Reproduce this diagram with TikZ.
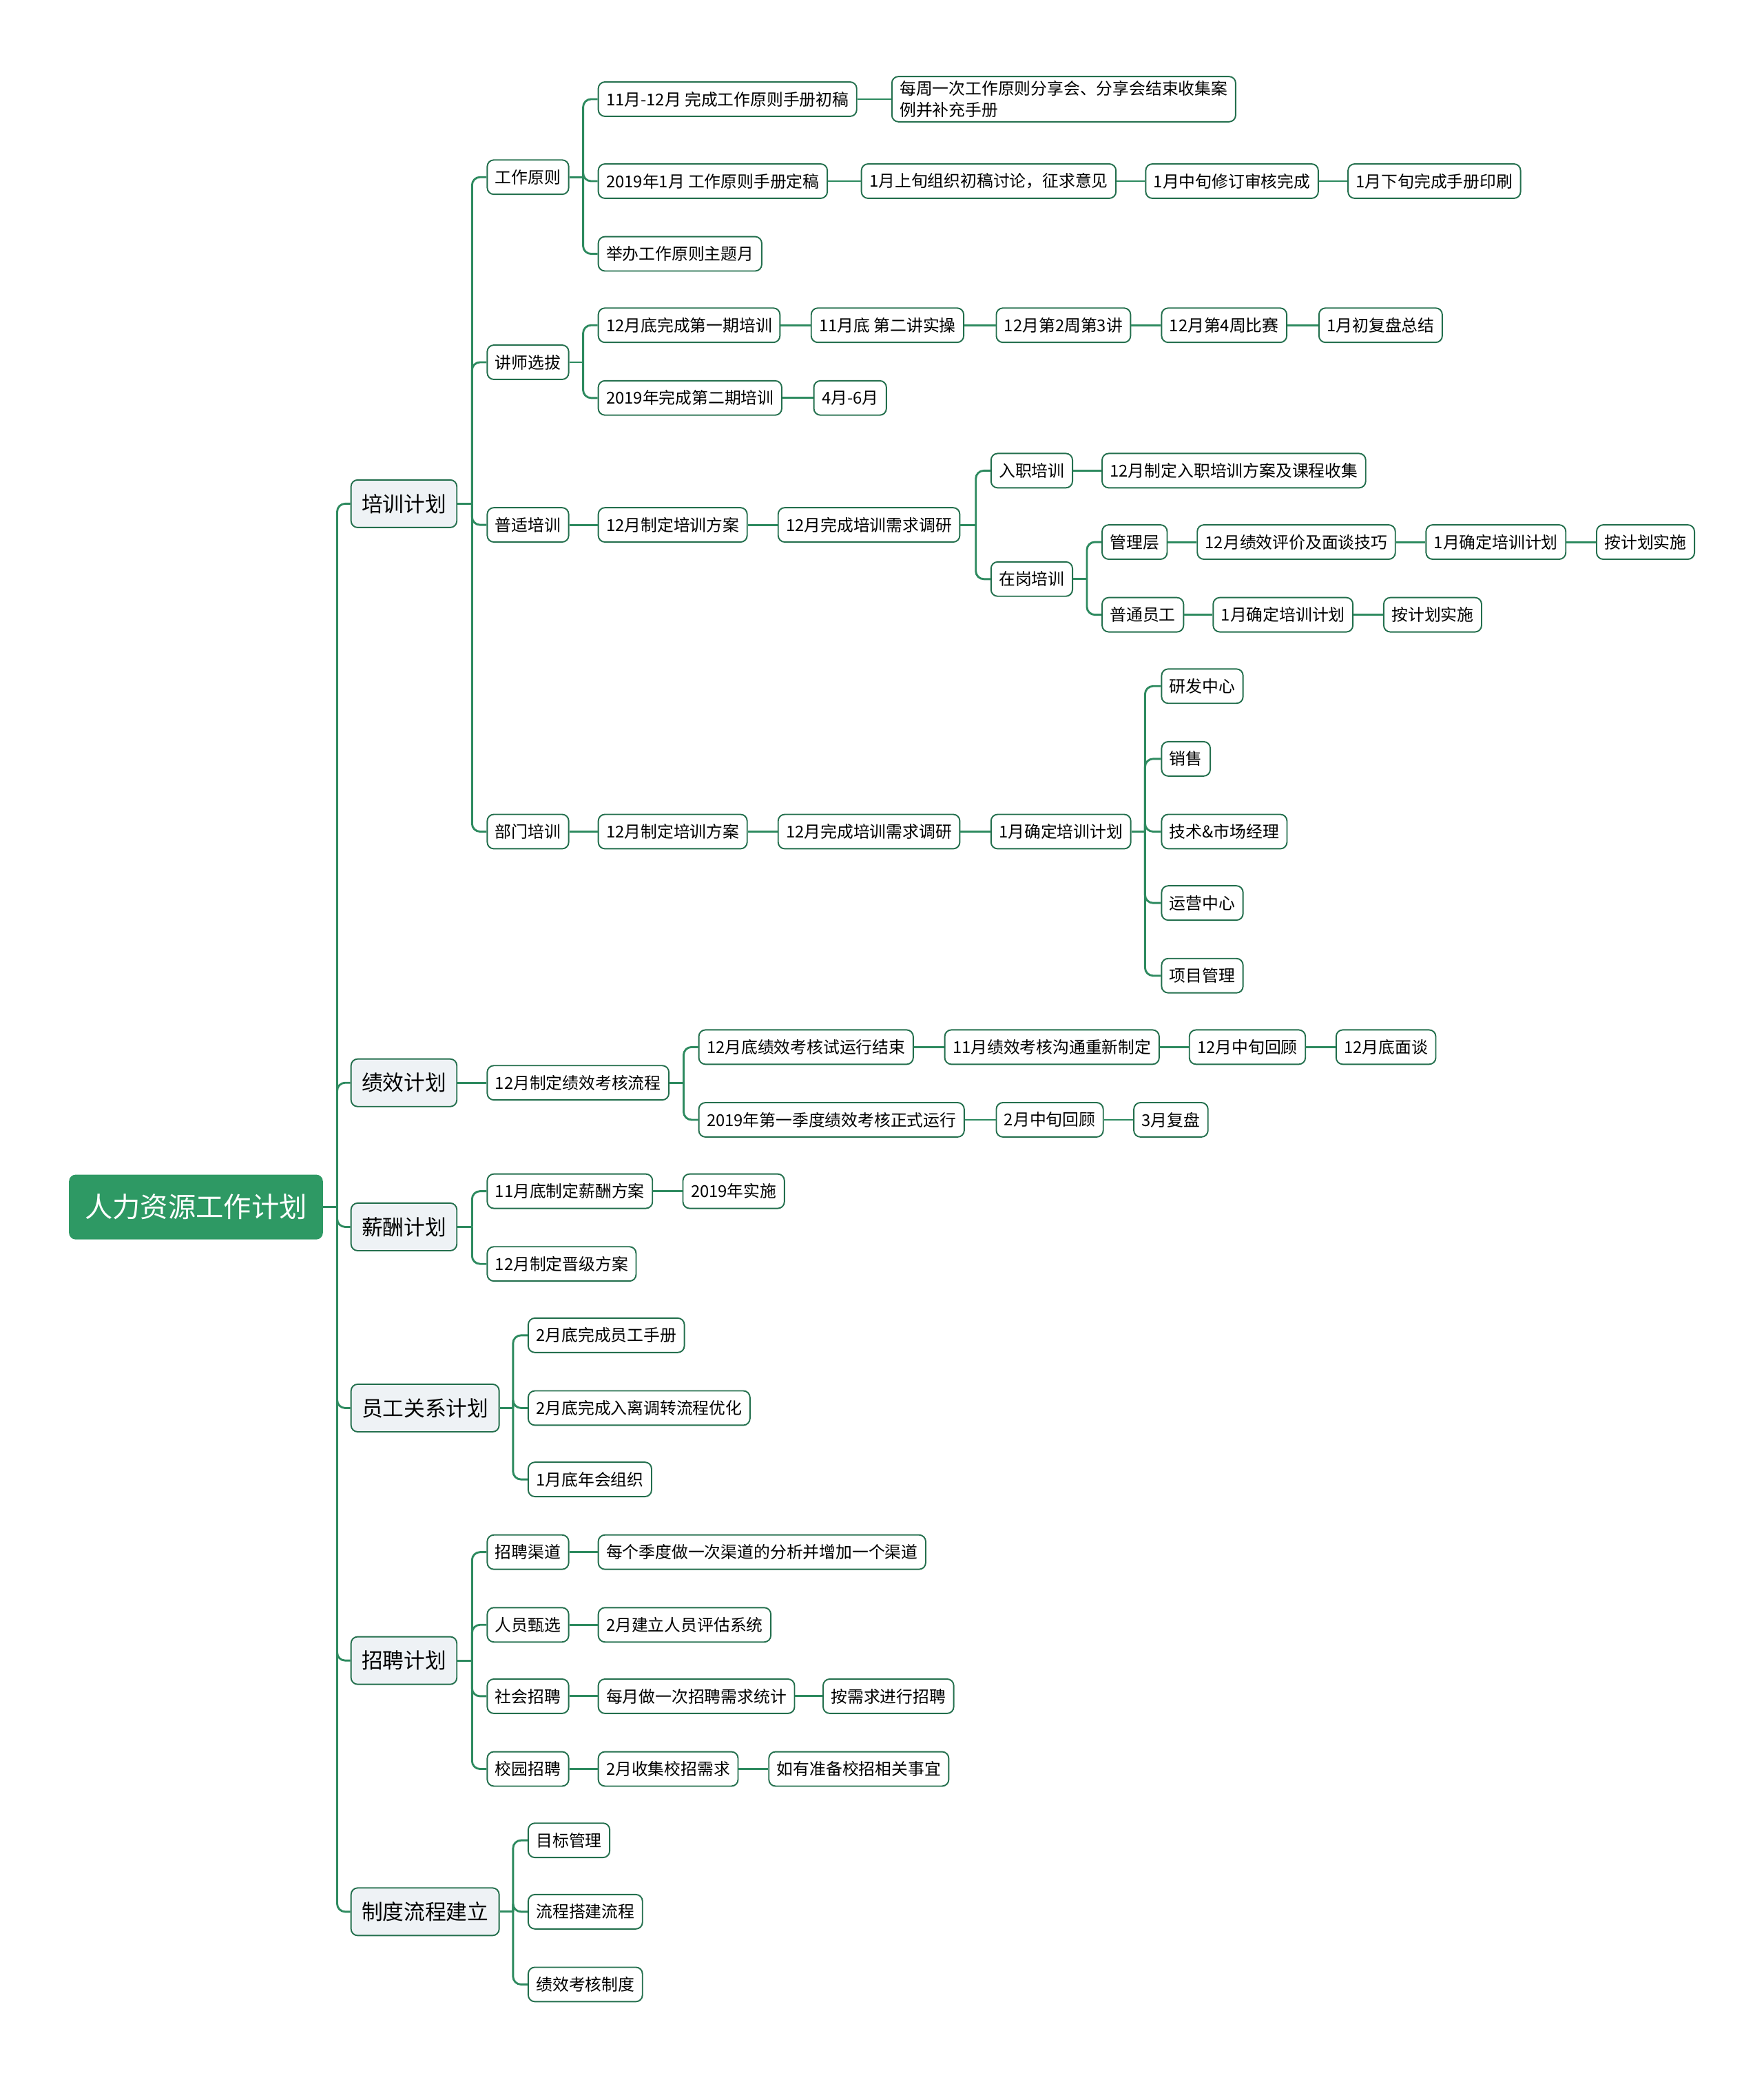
\documentclass[tikz,border=0pt]{standalone}
\usepackage{fontspec}
\setmainfont{Noto Sans CJK SC}
\definecolor{hrgreen}{HTML}{2E9964}
\definecolor{hrline}{HTML}{2D8A5F}
\definecolor{hrborder}{HTML}{236F4D}
\definecolor{hrgray}{HTML}{EEF2F5}

\begin{document}
\begin{tikzpicture}[
    x=1pt, y=-1pt,
    every node/.style={font=\fontsize{12.4}{16}\selectfont},
    rootnode/.style={
        anchor=west, fill=hrgreen, rounded corners=5pt,
        text=white, inner xsep=12pt, minimum height=49pt,
        font=\fontsize{21}{24}\selectfont
    },
    mainnode/.style={
        anchor=west, draw=hrborder, line width=1pt, fill=hrgray,
        rounded corners=5pt, inner xsep=8pt, minimum height=36pt,
        font=\fontsize{16}{19}\selectfont
    },
    subnode/.style={
        anchor=west, draw=hrborder, line width=1pt, fill=white,
        rounded corners=5pt, inner xsep=6pt, minimum height=26pt,
        align=left
    },
    link/.style={draw=hrline, line width=1.5pt, rounded corners=6pt}
]

\useasboundingbox (0,0) rectangle (1334,1568);

% Wurzel und Hauptzweige
\node[rootnode] (root) at (52,913) {人力资源工作计划};
\node[mainnode] (px) at (265,381)  {培训计划};
\node[mainnode] (jx) at (265,819)  {绩效计划};
\node[mainnode] (xc) at (265,928)  {薪酬计划};
\node[mainnode] (yg) at (265,1065) {员工关系计划};
\node[mainnode] (zp) at (265,1256) {招聘计划};
\node[mainnode] (zd) at (265,1446) {制度流程建立};

%培训计划
\node[subnode] (gz) at (368,134) {工作原则};
\node[subnode] (js) at (368,274) {讲师选拔};
\node[subnode] (ps) at (368,397) {普适培训};
\node[subnode] (bm) at (368,629) {部门培训};

\node[subnode] (gz1)  at (452,75)  {11月-12月 完成工作原则手册初稿};
\node[subnode] (gz1a) at (674,75)  {每周一次工作原则分享会、分享会结束收集案\\例并补充手册};
\node[subnode] (gz2)  at (452,137) {2019年1月 工作原则手册定稿};
\node[subnode] (gz2a) at (651,137) {1月上旬组织初稿讨论，征求意见};
\node[subnode] (gz2b) at (866,137) {1月中旬修订审核完成};
\node[subnode] (gz2c) at (1019,137) {1月下旬完成手册印刷};
\node[subnode] (gz3)  at (452,192) {举办工作原则主题月};

\node[subnode] (js1)  at (452,246) {12月底完成第一期培训};
\node[subnode] (js1a) at (613,246) {11月底 第二讲实操};
\node[subnode] (js1b) at (753,246) {12月第2周第3讲};
\node[subnode] (js1c) at (878,246) {12月第4周比赛};
\node[subnode] (js1d) at (997,246) {1月初复盘总结};
\node[subnode] (js2)  at (452,301) {2019年完成第二期培训};
\node[subnode] (js2a) at (615,301) {4月-6月};

\node[subnode] (ps1) at (452,397) {12月制定培训方案};
\node[subnode] (ps2) at (588,397) {12月完成培训需求调研};
\node[subnode] (rz)  at (749,356) {入职培训};
\node[subnode] (rz1) at (833,356) {12月制定入职培训方案及课程收集};
\node[subnode] (zg)  at (749,438) {在岗培训};
\node[subnode] (gl)  at (833,410) {管理层};
\node[subnode] (gl1) at (905,410) {12月绩效评价及面谈技巧};
\node[subnode] (gl2) at (1078,410) {1月确定培训计划};
\node[subnode] (gl3) at (1207,410) {按计划实施};
\node[subnode] (pt)  at (833,465) {普通员工};
\node[subnode] (pt1) at (917,465) {1月确定培训计划};
\node[subnode] (pt2) at (1046,465) {按计划实施};

\node[subnode] (bm1) at (452,629) {12月制定培训方案};
\node[subnode] (bm2) at (588,629) {12月完成培训需求调研};
\node[subnode] (bm3) at (749,629) {1月确定培训计划};
\node[subnode] (bma) at (878,519) {研发中心};
\node[subnode] (bmb) at (878,574) {销售};
\node[subnode] (bmc) at (878,629) {技术\&市场经理};
\node[subnode] (bmd) at (878,683) {运营中心};
\node[subnode] (bme) at (878,738) {项目管理};

% 绩效计划
\node[subnode] (jx1)  at (368,819) {12月制定绩效考核流程};
\node[subnode] (jx2)  at (528,792) {12月底绩效考核试运行结束};
\node[subnode] (jx2a) at (714,792) {11月绩效考核沟通重新制定};
\node[subnode] (jx2b) at (899,792) {12月中旬回顾};
\node[subnode] (jx2c) at (1010,792) {12月底面谈};
\node[subnode] (jx3)  at (528,847) {2019年第一季度绩效考核正式运行};
\node[subnode] (jx3a) at (753,847) {2月中旬回顾};
\node[subnode] (jx3b) at (857,847) {3月复盘};

% 薪酬计划
\node[subnode] (xc1)  at (368,901) {11月底制定薪酬方案};
\node[subnode] (xc1a) at (516,901) {2019年实施};
\node[subnode] (xc2)  at (368,956) {12月制定晋级方案};

% 员工关系计划
\node[subnode] (yg1) at (399,1010) {2月底完成员工手册};
\node[subnode] (yg2) at (399,1065) {2月底完成入离调转流程优化};
\node[subnode] (yg3) at (399,1119) {1月底年会组织};

% 招聘计划
\node[subnode] (zp1)  at (368,1174) {招聘渠道};
\node[subnode] (zp1a) at (452,1174) {每个季度做一次渠道的分析并增加一个渠道};
\node[subnode] (zp2)  at (368,1229) {人员甄选};
\node[subnode] (zp2a) at (452,1229) {2月建立人员评估系统};
\node[subnode] (zp3)  at (368,1283) {社会招聘};
\node[subnode] (zp3a) at (452,1283) {每月做一次招聘需求统计};
\node[subnode] (zp3b) at (622,1283) {按需求进行招聘};
\node[subnode] (zp4)  at (368,1338) {校园招聘};
\node[subnode] (zp4a) at (452,1338) {2月收集校招需求};
\node[subnode] (zp4b) at (581,1338) {如有准备校招相关事宜};

% 制度流程建立
\node[subnode] (zd1) at (399,1392) {目标管理};
\node[subnode] (zd2) at (399,1446) {流程搭建流程};
\node[subnode] (zd3) at (399,1501) {绩效考核制度};

% Verzweigungspunkte
\coordinate (t-root) at (255,913);
\coordinate (t-px)   at (357,381);
\coordinate (t-gz)   at (441,134);
\coordinate (t-js)   at (441,274);
\coordinate (t-ps2)  at (738,397);
\coordinate (t-zg)   at (822,438);
\coordinate (t-bm3)  at (866,629);
\coordinate (t-jx1)  at (517,819);
\coordinate (t-xc)   at (357,928);
\coordinate (t-yg)   at (388,1065);
\coordinate (t-zp)   at (357,1256);
\coordinate (t-zd)   at (388,1446);

% Verbindungen
\draw[link] (root.east) -- (t-root);
\foreach \c in {px,jx,xc,yg,zp,zd}
    \draw[link] (t-root) |- (\c.west);

\draw[link] (px.east) -- (t-px);
\foreach \c in {gz,js,ps,bm}
    \draw[link] (t-px) |- (\c.west);

\draw[link] (gz.east) -- (t-gz);
\foreach \c in {gz1,gz2,gz3}
    \draw[link] (t-gz) |- (\c.west);
\draw[link] (js.east) -- (t-js);
\foreach \c in {js1,js2}
    \draw[link] (t-js) |- (\c.west);

\draw[link] (ps2.east) -- (t-ps2);
\foreach \c in {rz,zg}
    \draw[link] (t-ps2) |- (\c.west);
\draw[link] (zg.east) -- (t-zg);
\foreach \c in {gl,pt}
    \draw[link] (t-zg) |- (\c.west);

\draw[link] (bm3.east) -- (t-bm3);
\foreach \c in {bma,bmb,bmc,bmd,bme}
    \draw[link] (t-bm3) |- (\c.west);

\draw[link] (jx1.east) -- (t-jx1);
\foreach \c in {jx2,jx3}
    \draw[link] (t-jx1) |- (\c.west);

\draw[link] (xc.east) -- (t-xc);
\foreach \c in {xc1,xc2}
    \draw[link] (t-xc) |- (\c.west);

\draw[link] (yg.east) -- (t-yg);
\foreach \c in {yg1,yg2,yg3}
    \draw[link] (t-yg) |- (\c.west);

\draw[link] (zp.east) -- (t-zp);
\foreach \c in {zp1,zp2,zp3,zp4}
    \draw[link] (t-zp) |- (\c.west);

\draw[link] (zd.east) -- (t-zd);
\foreach \c in {zd1,zd2,zd3}
    \draw[link] (t-zd) |- (\c.west);

% Ketten
\foreach \a/\b in {gz1/gz1a, gz2/gz2a, gz2a/gz2b, gz2b/gz2c,
    js1/js1a, js1a/js1b, js1b/js1c, js1c/js1d, js2/js2a,
    ps/ps1, ps1/ps2, rz/rz1, gl/gl1, gl1/gl2, gl2/gl3, pt/pt1, pt1/pt2,
    bm/bm1, bm1/bm2, bm2/bm3,
    jx/jx1, jx2/jx2a, jx2a/jx2b, jx2b/jx2c, jx3/jx3a, jx3a/jx3b,
    xc1/xc1a, zp1/zp1a, zp2/zp2a, zp3/zp3a, zp3a/zp3b, zp4/zp4a, zp4a/zp4b}
    \draw[link] (\a.east) -- (\b.west);

\end{tikzpicture}
\end{document}
